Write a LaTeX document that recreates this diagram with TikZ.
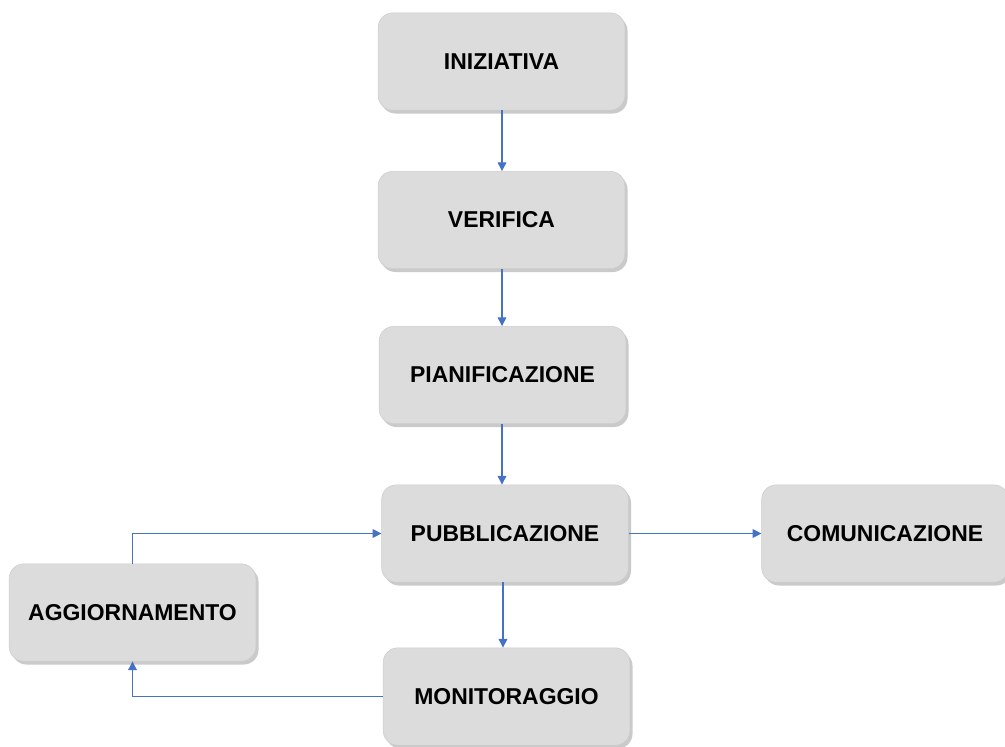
\documentclass[tikz,border=0pt]{standalone}
\usepackage{fontspec}
\setmainfont{Liberation Sans}
\usetikzlibrary{shadows,arrows.meta}
\definecolor{boxfill}{RGB}{220,220,220}
\definecolor{boxline}{RGB}{205,205,205}
\definecolor{arrowblue}{RGB}{68,114,196}
\begin{document}
\begin{tikzpicture}[x=0.75pt,y=-0.75pt,
  stepbox/.style={rectangle, rounded corners=11pt, fill=boxfill, draw=boxline, line width=0.4pt,
    minimum width=185pt, minimum height=73pt, inner sep=0pt,
    font=\fontsize{17.2}{20}\selectfont\bfseries,
    drop shadow={shadow xshift=2pt, shadow yshift=-2.5pt, opacity=0.35, fill=black!60}},
  flow/.style={draw=arrowblue, line width=0.8pt, -{Triangle[width=6.5pt,length=6.5pt]}}]
\useasboundingbox (0,0) rectangle (1005,746);
\node[stepbox] (ini) at (501.5,61.5) {INIZIATIVA};
\node[stepbox] (ver) at (501.5,220) {VERIFICA};
\node[stepbox] (pia) at (502.5,375) {PIANIFICAZIONE};
\node[stepbox] (pub) at (505,533.5) {PUBBLICAZIONE};
\node[stepbox] (com) at (885,533.5) {COMUNICAZIONE};
\node[stepbox] (mon) at (506.5,696.5) {MONITORAGGIO};
\node[stepbox] (agg) at (132.5,612.5) {AGGIORNAMENTO};
\draw[flow] (ini.south -| 502,0) -- (ver.north -| 502,0);
\draw[flow] (ver.south -| 502,0) -- (pia.north -| 502,0);
\draw[flow] (pia.south -| 502,0) -- (pub.north -| 502,0);
\draw[flow] (pub.south -| 503,0) -- (mon.north -| 503,0);
\draw[flow] (pub.east) -- (com.west);
\draw[flow] (agg.north) |- (pub.west);
\draw[flow] (mon.west) -| (agg.south);
\end{tikzpicture}
\end{document}
